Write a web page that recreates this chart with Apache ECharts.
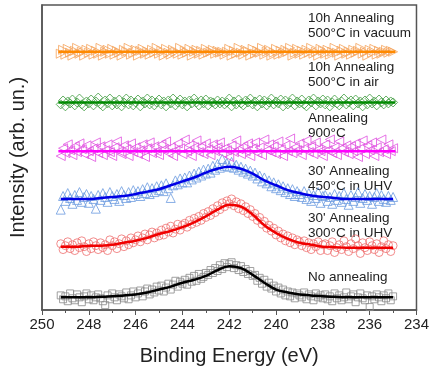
<!DOCTYPE html>
<html>
<head>
<meta charset="utf-8">
<script src="https://cdn.jsdelivr.net/npm/echarts@6/dist/echarts.min.js"></script>
<style>
  html, body { margin: 0; padding: 0; background: #fff; }
  #xps { width: 432px; height: 371px; }
</style>
</head>
<body>
<div id="xps"></div>
<script>
// binding energies of the measured points (eV), 0.1 eV step
const energy = [
  249.2,249.1,249.0,248.9,248.8,248.7,248.6,248.5,248.4,248.3,248.2,248.1,248.0,247.9,247.8,247.7,247.6,
  247.5,247.4,247.3,247.2,247.1,247.0,246.9,246.8,246.7,246.6,246.5,246.4,246.3,246.2,246.1,246.0,
  245.9,245.8,245.7,245.6,245.5,245.4,245.3,245.2,245.1,245.0,
  244.9,244.8,244.7,244.6,244.5,244.4,244.3,244.2,244.1,244.0,
  243.9,243.8,243.7,243.6,243.5,243.4,243.3,243.2,243.1,243.0,
  242.9,242.8,242.7,242.6,242.5,242.4,242.3,242.2,242.1,242.0,
  241.9,241.8,241.7,241.6,241.5,241.4,241.3,241.2,241.1,241.0,
  240.9,240.8,240.7,240.6,240.5,240.4,240.3,240.2,240.1,240.0,
  239.9,239.8,239.7,239.6,239.5,239.4,239.3,239.2,239.1,239.0,
  238.9,238.8,238.7,238.6,238.5,238.4,238.3,238.2,238.1,238.0,
  237.9,237.8,237.7,237.6,237.5,237.4,237.3,237.2,237.1,237.0,
  236.9,236.8,236.7,236.6,236.5,236.4,236.3,236.2,236.1,236.0,
  235.9,235.8,235.7,235.6,235.5,235.4,235.3,235.2,235.1,235.0
];

// measured intensities (arb. un., curves stacked with offsets)
const noAnneal = [
  15,11,14,9,17,12,10,16,13,8,14,17,11,15,10,13,16,
  12,9,5,15,11,17,13,10,16,14,12,18,11,15,19,13,
  17,20,14,19,22,16,21,18,24,20,
  25,19,23,27,21,26,30,24,29,27,
  31,26,33,29,35,30,37,32,34,38,
  36,41,38,43,40,46,42,48,44,47,
  49,43,46,41,45,39,42,37,40,35,
  36,30,33,27,31,24,28,22,25,19,
  23,17,21,15,19,14,18,12,17,15,
  13,18,11,16,14,10,17,13,15,12,
  16,11,14,9,17,12,15,10,13,18,
  11,14,16,8,13,17,12,10,15,3,
  14,11,16,13,9,15,12,17,10,14
];
const uhv300 = [
  68,62,66,70,63,67,61,69,64,71,65,60,68,63,70,66,62,
  69,64,67,61,72,66,70,63,68,73,65,71,67,74,69,72,
  76,70,74,78,72,77,80,74,79,76,
  82,77,84,80,86,79,83,88,82,87,
  89,85,92,88,94,90,96,92,99,95,
  101,97,104,100,107,103,110,106,112,109,
  114,107,111,104,109,102,106,99,103,96,
  99,92,95,88,91,84,87,81,84,77,
  81,74,78,71,76,69,74,67,72,70,
  66,71,64,69,62,68,65,70,61,67,
  68,61,66,70,59,64,67,62,71,65,
  60,68,63,73,66,58,69,64,61,70,
  66,62,68,59,65,71,63,67,60,66
];
const uhv450 = [
  103,117,112,120,115,109,118,113,121,111,116,119,110,117,114,104,118,
  113,120,116,111,121,117,114,119,112,122,118,115,121,116,123,119,
  122,117,124,120,126,119,125,121,127,123,
  128,122,130,125,115,128,133,129,135,131,
  136,131,138,134,140,136,142,138,144,140,
  145,141,148,144,150,146,155,148,151,147,
  152,146,149,144,147,142,145,140,143,138,
  141,135,138,132,136,130,133,127,131,125,
  129,123,127,121,125,119,124,117,122,119,
  116,122,114,120,112,118,115,121,110,117,
  118,112,116,109,119,113,117,111,120,114,
  108,118,112,116,121,110,115,119,113,117,
  109,116,120,112,118,114,111,117,113,116
];
const c900 = [
  158,166,161,170,164,159,168,162,171,165,160,169,163,157,166,172,161,
  168,159,164,170,162,158,167,173,163,160,169,165,158,171,162,
  167,160,164,170,157,166,172,161,168,163,
  159,170,165,173,161,167,158,164,171,166,
  160,175,163,169,158,167,174,162,168,160,
  171,165,159,170,163,167,172,161,166,164,
  157,169,162,174,165,160,168,163,171,158,
  166,172,161,167,159,175,164,170,162,168,
  160,173,165,158,169,163,176,161,167,164,
  171,159,166,174,162,168,160,172,165,163,
  158,170,164,175,161,167,159,173,166,162,
  169,160,168,163,171,157,166,174,160,169,
  164,172,158,167,162,175,165,160,170,163,166
];
const air500 = [
  211,215,209,214,212,216,210,213,217,211,209,214,212,216,210,214,218,
  211,209,215,212,217,210,214,211,216,209,213,217,211,215,210,213,
  216,209,214,212,217,211,215,210,213,216,
  211,214,209,215,212,217,210,213,216,211,
  214,209,215,212,217,213,210,215,212,216,
  210,214,213,211,215,212,214,211,213,217,
  209,214,211,216,212,210,215,213,217,211,
  214,209,216,212,215,210,213,217,211,214,
  212,216,209,215,211,213,217,210,214,212,
  216,211,209,215,213,217,210,214,212,216,
  211,215,209,213,216,212,210,214,217,211,
  213,215,210,216,212,214,209,215,211,217,
  212,214,210,216,213,211,215,212,214,213
];
const vac500 = [
  263,267,262,268,264,261,266,269,263,265,261,267,264,268,262,266,263,
  269,261,265,267,263,268,262,266,264,261,267,265,269,262,264,267,
  261,266,268,263,265,262,267,264,269,263,
  266,261,268,264,262,267,265,263,269,262,
  266,264,268,261,265,267,263,266,262,268,
  264,265,267,263,266,264,265,262,265,268,
  261,266,263,269,264,262,267,265,261,268,
  263,266,264,269,262,265,267,261,264,268,
  262,266,263,267,265,269,261,264,268,263,
  266,262,267,264,269,263,265,261,268,266,
  263,267,262,265,269,264,261,266,268,263,
  265,262,267,264,266,269,263,265,261,267,
  264,268,262,266,263,265,267,264,266,265
];

// fitted curves
const fitEnergy = [249.2,248.5,248,247.5,247,246.5,246,245.5,245,244.5,244,243.5,243,242.5,242,241.5,241,240.5,240,239.5,239,238.5,238,237.5,237,236.5,236,235.5,235];
const fitNoAnneal = [13,13,13,13.5,14,15,16,18,21,24,28,31,35,41,45,43,36,28,21,18,16,15,14,13.5,13,13,13,13,13];
const fitUhv300 = [65,65,66,66,67,69,71,74,78,81,85,90,96,103,108,106,98,87,79,73,69,67,65,64.5,64,64,64,64,64];
const fitUhv450 = [114,114,114,115,116,117,119,121.5,124,128,132,136,141,145,147,145,140,133,128,123,120,117.5,116,115,114,114,114,114,114];
const flatEnergy = [249.3, 234.9];
const fitC900 = [163, 163];
const fitAir500 = [213, 213];
const fitVac500 = [265, 265];

const labels = [
  {text: '10h Annealing\n500°C in vacuum', y: 26},
  {text: '10h Annealing\n500°C in air', y: 75},
  {text: 'Annealing\n900°C', y: 126},
  {text: "30' Annealing\n450°C in UHV", y: 179},
  {text: "30' Annealing\n300°C in UHV", y: 226},
  {text: 'No annealing', y: 277}
];

function pairs(xs, ys) {
  return xs.map((x, i) => [x, ys[i]]);
}

function marks(data, symbol, color, size, rotate) {
  return {
    type: 'scatter',
    data: data,
    symbol: symbol,
    symbolSize: size,
    symbolRotate: rotate || 0,
    z: 2,
    itemStyle: {color: 'rgba(0,0,0,0)', borderColor: color, borderWidth: 1},
    silent: true
  };
}

function fit(data, color) {
  return {
    type: 'line',
    data: data,
    smooth: 0.4,
    showSymbol: false,
    z: 3,
    lineStyle: {color: color, width: 2.5},
    silent: true
  };
}

let myChart = echarts.init(document.getElementById('xps'));
myChart.setOption({
  animation: false,
  grid: {left: 42, right: 12, top: 5, bottom: 53, show: true, borderColor: '#555', borderWidth: 1.5},
  xAxis: {
    type: 'value',
    inverse: true,
    min: 234,
    max: 250,
    interval: 2,
    name: 'Binding Energy (eV)',
    nameLocation: 'middle',
    nameGap: 36,
    nameTextStyle: {fontFamily: 'Liberation Sans', fontSize: 20, color: '#222'},
    axisLine: {lineStyle: {color: '#555', width: 1.5}},
    axisTick: {length: 5, lineStyle: {color: '#555'}},
    minorTick: {show: true, splitNumber: 2, length: 3, lineStyle: {color: '#555'}},
    axisLabel: {fontFamily: 'Liberation Sans', fontSize: 15, color: '#222', margin: 7},
    splitLine: {show: false}
  },
  yAxis: {
    type: 'value',
    min: 0,
    max: 313,
    name: 'Intensity (arb. un.)',
    nameLocation: 'middle',
    nameGap: 14,
    nameTextStyle: {fontFamily: 'Liberation Sans', fontSize: 20, color: '#222'},
    axisLine: {show: true, lineStyle: {color: '#555', width: 1.5}},
    axisTick: {show: false},
    axisLabel: {show: false},
    splitLine: {show: false}
  },
  graphic: labels.map(l => ({
    type: 'text',
    x: 308,
    y: l.y,
    silent: true,
    style: {
      text: l.text,
      fill: '#222',
      font: '13.5px "Liberation Sans"',
      lineHeight: 15,
      verticalAlign: 'middle'
    }
  })),
  series: [
    marks(pairs(energy, noAnneal), 'rect', '#8a8a8a', 7),
    marks(pairs(energy, uhv300), 'circle', '#ef6f6f', 8),
    marks(pairs(energy, uhv450), 'triangle', '#6b9be0', 9),
    marks(pairs(energy, c900), 'triangle', '#e050e0', 9, 90),
    marks(pairs(energy, air500), 'diamond', '#3b9a3b', 9),
    marks(pairs(energy, vac500), 'triangle', '#f5a35a', 9, -90),
    fit(pairs(fitEnergy, fitNoAnneal), '#000'),
    fit(pairs(fitEnergy, fitUhv300), '#f00000'),
    fit(pairs(fitEnergy, fitUhv450), '#0000e6'),
    fit(pairs(flatEnergy, fitC900), '#ff00ff'),
    fit(pairs(flatEnergy, fitAir500), '#008a00'),
    fit(pairs(flatEnergy, fitVac500), '#ff8a00')
  ]
});

window.addEventListener('resize', function() {
  myChart.resize();
});
</script>
</body>
</html>
